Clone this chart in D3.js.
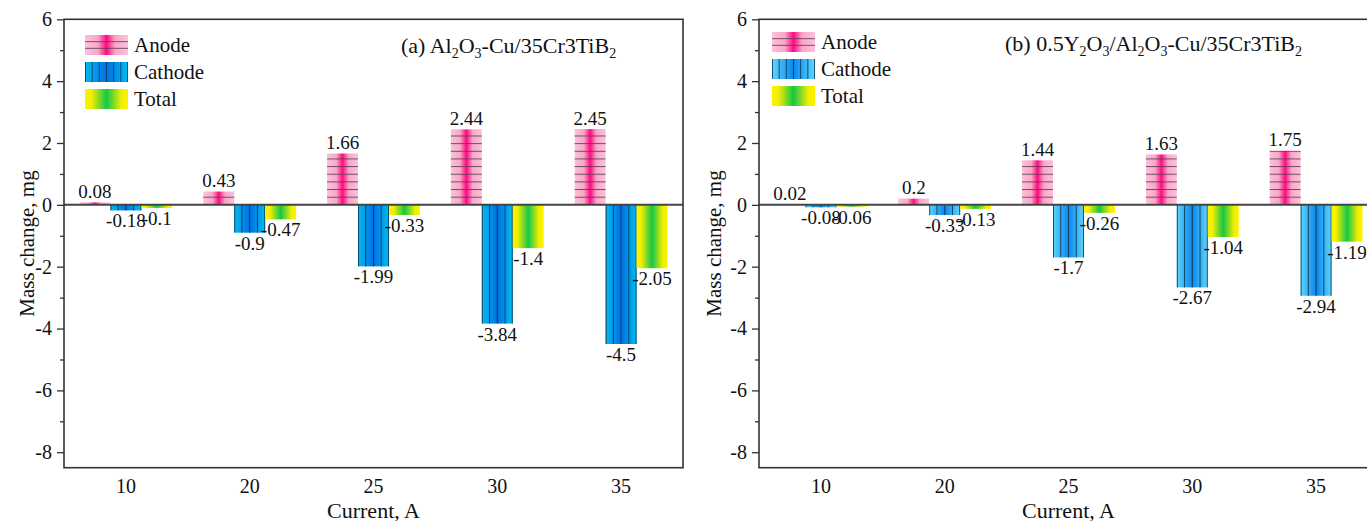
<!DOCTYPE html>
<html>
<head>
<meta charset="utf-8">
<script src="https://cdn.jsdelivr.net/npm/d3@7"></script>
<style>
  body { margin: 0; background: #fff; }
  svg text { font-family: "Liberation Serif", "Times New Roman", serif; fill: #111; }
</style>
</head>
<body>
<div id="app"></div>
<script>
const container = document.querySelector('#app');

const width = 1367;
const height = 521;

// data
const currents = ["10", "20", "25", "30", "35"];
const seriesNames = ["Anode", "Cathode", "Total"];

const anodeA = [0.08, 0.43, 1.66, 2.44, 2.45];
const cathodeA = [-0.18, -0.9, -1.99, -3.84, -4.5];
const totalA = [-0.1, -0.47, -0.33, -1.4, -2.05];

const anodeB = [0.02, 0.2, 1.44, 1.63, 1.75];
const cathodeB = [-0.08, -0.33, -1.7, -2.67, -2.94];
const totalB = [-0.06, -0.13, -0.26, -1.04, -1.19];

const yMajor = [-8, -6, -4, -2, 0, 2, 4, 6];
const yMinor = [-7, -5, -3, -1, 1, 3, 5];

const plotTop = 19.3;
const plotBottom = 467.7;

const svg = d3.create("svg")
    .attr("width", width)
    .attr("height", height);

const defs = svg.append("defs");

// gradient helper (horizontal, per bar bounding box)
function grad(id, stops) {
  const g = defs.append("linearGradient").attr("id", id)
    .attr("x1", 0).attr("x2", 1).attr("y1", 0).attr("y2", 0);
  stops.forEach(s => g.append("stop").attr("offset", s[0]).attr("stop-color", s[1]));
}
grad("anodeGrad", [[0, "#fbc2da"], [0.3, "#f9a6c8"], [0.5, "#ff0a80"], [0.7, "#f9a6c8"], [1, "#fbc2da"]]);
grad("cathGradA", [[0, "#00bdf0"], [0.5, "#0070e2"], [1, "#00bdf0"]]);
grad("cathGradB", [[0, "#5fd6ff"], [0.5, "#0a86ea"], [1, "#5fd6ff"]]);
grad("totalGrad", [[0, "#fff200"], [0.15, "#f2ee00"], [0.5, "#14c848"], [0.85, "#f2ee00"], [1, "#fff200"]]);

const y = d3.scaleLinear()
    .domain([-8.5, 6])
    .range([plotBottom, plotTop]);

// horizontal hatch for anode, anchored on the zero line
const hp = defs.append("pattern").attr("id", "hlines")
  .attr("patternUnits", "userSpaceOnUse")
  .attr("x", 0).attr("y", y(0) - 0.5)
  .attr("width", 10).attr("height", 7.65);
hp.append("rect").attr("x", 0).attr("y", 0).attr("width", 10).attr("height", 1)
  .attr("fill", "#5b3a50").attr("opacity", 0.85);

const panels = [
  {
    left: 64, right: 683,
    anode: anodeA, cathode: cathodeA, total: totalA,
    cathGrad: "cathGradA",
    legendX: 85, legendY: 35,
    title: [["(a) Al", 0], ["2", 1], ["O", 0], ["3", 1], ["-Cu/35Cr3TiB", 0], ["2", 1]],
    titleX: 401, titleY: 53,
    yLabelX: 34
  },
  {
    left: 759, right: 1378,
    anode: anodeB, cathode: cathodeB, total: totalB,
    cathGrad: "cathGradB",
    legendX: 772, legendY: 32,
    title: [["(b) 0.5Y", 0], ["2", 1], ["O", 0], ["3", 1], ["/Al", 0], ["2", 1], ["O", 0], ["3", 1], ["-Cu/35Cr3TiB", 0], ["2", 1]],
    titleX: 1005, titleY: 51,
    yLabelX: 721
  }
];

panels.forEach(p => {
  const g = svg.append("g");

  const x = d3.scaleBand()
      .domain(currents)
      .range([p.left, p.right])
      .paddingInner(0.25)
      .paddingOuter(0.125);

  const xs = d3.scaleBand()
      .domain(seriesNames)
      .range([0, x.bandwidth()]);

  const valuesBySeries = { Anode: p.anode, Cathode: p.cathode, Total: p.total };
  const fills = { Anode: "url(#anodeGrad)", Cathode: `url(#${p.cathGrad})`, Total: "url(#totalGrad)" };

  // y axis, major and minor ticks
  const yAxis = g.append("g")
      .attr("transform", `translate(${p.left},0)`)
      .call(d3.axisLeft(y).tickValues(yMajor).tickSize(7).tickPadding(5).tickFormat(d => String(d)));
  yAxis.select(".domain").remove();
  yAxis.selectAll("line").attr("stroke", "#333").attr("stroke-width", 1.3);
  yAxis.selectAll("text").attr("font-size", 20).attr("fill", "#111")
      .attr("font-family", "Liberation Serif, Times New Roman, serif");

  const yMin = g.append("g")
      .attr("transform", `translate(${p.left},0)`)
      .call(d3.axisLeft(y).tickValues(yMinor).tickSize(4).tickFormat(""));
  yMin.select(".domain").remove();
  yMin.selectAll("line").attr("stroke", "#333").attr("stroke-width", 1.3);

  // x axis labels
  const xAxis = g.append("g")
      .attr("transform", `translate(0,${plotBottom})`)
      .call(d3.axisBottom(x).tickSize(0).tickPadding(11));
  xAxis.select(".domain").remove();
  xAxis.selectAll("text").attr("font-size", 20).attr("fill", "#111")
      .attr("font-family", "Liberation Serif, Times New Roman, serif");

  // bars
  seriesNames.forEach(s => {
    const vals = valuesBySeries[s];
    const bars = g.append("g").selectAll("g")
      .data(vals.map((v, i) => ({ v, c: currents[i] })))
      .join("g");

    const bx = d => x(d.c) + xs(s);
    const by = d => Math.min(y(d.v), y(0));
    const bh = d => Math.abs(y(d.v) - y(0));

    bars.append("rect")
      .attr("x", bx).attr("y", by)
      .attr("width", xs.bandwidth()).attr("height", bh)
      .attr("fill", fills[s]);

    if (s === "Anode") {
      bars.append("rect")
        .attr("x", bx).attr("y", by)
        .attr("width", xs.bandwidth()).attr("height", bh)
        .attr("fill", "url(#hlines)");
    }
    if (s === "Cathode") {
      bars.each(function(d) {
        const sel = d3.select(this);
        d3.range(5).forEach(k => {
          const lx = bx(d) + k * xs.bandwidth() / 4 + (k === 0 ? 0.5 : k === 4 ? -0.5 : 0);
          sel.append("line")
            .attr("x1", lx).attr("x2", lx)
            .attr("y1", y(0)).attr("y2", y(d.v))
            .attr("stroke", "#0c3552").attr("stroke-width", 1).attr("opacity", 0.85);
        });
      });
    }

    bars.append("text")
      .attr("x", d => bx(d) + xs.bandwidth() / 2)
      .attr("y", d => d.v >= 0 ? y(d.v) - 4.5 : y(d.v) + 17)
      .attr("text-anchor", "middle")
      .attr("font-size", 19)
      .text(d => d.v);
  });

  // zero line
  g.append("line")
    .attr("x1", p.left).attr("x2", p.right)
    .attr("y1", y(0)).attr("y2", y(0))
    .attr("stroke", "#444").attr("stroke-width", 2);

  // frame
  g.append("rect")
    .attr("x", p.left).attr("y", plotTop)
    .attr("width", p.right - p.left).attr("height", plotBottom - plotTop)
    .attr("fill", "none").attr("stroke", "#333").attr("stroke-width", 1.6);

  // legend
  const sw = 43, sh = 20, step = 27;
  seriesNames.forEach((s, i) => {
    const ly = p.legendY + i * step;
    const lg = g.append("g").attr("transform", `translate(${p.legendX},${ly})`);
    lg.append("rect").attr("width", sw).attr("height", sh).attr("fill", fills[s]);
    if (s === "Anode") {
      [1, 2].forEach(k => lg.append("line")
        .attr("x1", 0).attr("x2", sw).attr("y1", k * sh / 3).attr("y2", k * sh / 3)
        .attr("stroke", "#5b3a50").attr("stroke-width", 1).attr("opacity", 0.8));
    }
    if (s === "Cathode") {
      d3.range(7).forEach(k => {
        const lx = Math.min(Math.max(k * sw / 6, 0.5), sw - 0.5);
        lg.append("line")
          .attr("x1", lx).attr("x2", lx).attr("y1", 0).attr("y2", sh)
          .attr("stroke", "#0c3552").attr("stroke-width", 1).attr("opacity", 0.8);
      });
    }
    lg.append("text")
      .attr("x", sw + 6).attr("y", sh - 3)
      .attr("font-size", 21)
      .text(s);
  });

  // title with subscripts
  const t = g.append("text")
    .attr("x", p.titleX).attr("y", p.titleY)
    .attr("font-size", 22);
  let wasSub = false;
  p.title.forEach(([str, sub]) => {
    const ts = t.append("tspan").text(str);
    if (sub) { ts.attr("font-size", 14).attr("dy", wasSub ? 0 : 5); }
    else if (wasSub) { ts.attr("dy", -5); }
    wasSub = !!sub;
  });

  // axis titles
  g.append("text")
    .attr("transform", `translate(${p.yLabelX},${(plotTop + plotBottom) / 2}) rotate(-90)`)
    .attr("text-anchor", "middle")
    .attr("font-size", 21)
    .text("Mass change, mg");

  g.append("text")
    .attr("x", (p.left + p.right) / 2)
    .attr("y", 518)
    .attr("text-anchor", "middle")
    .attr("font-size", 22)
    .text("Current, A");
});

container.append(svg.node());
</script>
</body>
</html>
